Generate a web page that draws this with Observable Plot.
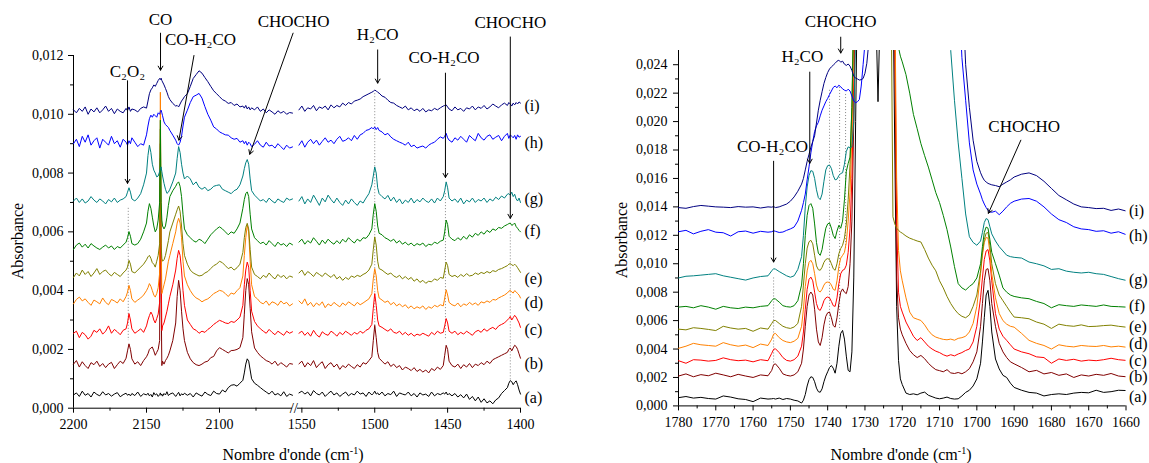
<!DOCTYPE html>
<html><head><meta charset="utf-8">
<script src="https://cdn.jsdelivr.net/npm/d3@7"></script>
<script src="https://cdn.jsdelivr.net/npm/@observablehq/plot@0.6"></script>
<style>
body{margin:0;background:#fff;}
#chart{position:relative;width:1149px;height:463px;font-family:"Liberation Serif",serif;overflow:hidden;background:#fff}
#chart svg{position:absolute;left:0;top:0;overflow:visible}
.ttl{position:absolute;font-size:16px;color:#000;white-space:nowrap;transform:translate(-50%,-50%)}
.rot{transform:translate(-50%,-50%) rotate(-90deg)}
.ttl sup{font-size:10px;vertical-align:6px;line-height:0}
</style></head><body><div id="chart"></div>
<script>
// Series keys and colours (a) ... (i)
const keys = ["a","b","c","d","e","f","g","h","i"];
const colors = ["#000000","#800000","#ff0000","#ff8000","#808000","#008000","#008080","#0000ff","#000080"];
const seriesLabels = ["(a)","(b)","(c)","(d)","(e)","(f)","(g)","(h)","(i)"];
// Absorbance values below are in units of 1e-5

// ---------- Left panel, segment 2200-2050 cm-1 ----------
const gridA = [2200,2198,2196,2194,2192,2190,2188,2186,2184,2182,2180,2178,2176,2174,2172,2170,2168,2166,2164,2163,2162,2161,2160,2158,2156,2154,2152,2150,2149,2148,2147,2146,2145,2144,2143,2142,2141,2140.5,2140,2139.5,2139,2138,2137,2136,2135,2134,2132,2130,2129,2128,2127,2126,2125,2124,2122,2120,2118,2116,2114,2112,2110,2108,2106,2104,2102,2100,2098,2096,2094,2092,2090,2088,2086,2084,2083,2082,2081,2080,2079,2078,2076,2074,2072,2070,2068,2066,2064,2062,2060,2058,2056,2054,2052,2050];
const aA = [45,52,40,58,44,50,38,55,47,42,56,45,50,41,48,53,39,46,51, 44,48,42,50, 43,55,40,49,45, 51,42,47,38,53,45,49,40,46, 52,44,48, 41,50,45,56,43,48, 52,40, 47,54,42,49,45,51, 44,50,38,52,46,41,55,47,43,58,50,48,62,55,70,78,80,75,85,95, 120,150,168,160,130,100, 85,78,70,62,55,48,58,45,50,42,56,40,48,44];
const bA = [150,162,140,158,145,135,155,148,160,142,152,138,150,156,135,148,160,152,170, 195,219,200,168, 150,158,145,162,175, 185,200,205,208,195,180,190,200,230, 850,400,145, 160,150,162,170,180,195, 230,290, 380,435,400,330,270,230, 190,168,155,148,145,150,157,160,172,176,195,206,200,194,188,196,197,200,206,240, 320,400,441,420,340,260, 205,190,178,170,162,158,150,160,145,155,148,140,152,150];
const cA = [255,262,240,258,250,235,245,265,258,270,252,262,280,255,268,260,250,265,270, 290,322,300,270, 255,262,270,258,280, 300,315,327,318,300,290,305,320,360, 900,500,264, 280,290,310,330,355,380, 420,470, 510,537,520,470,400,350, 300,285,270,265,255,262,258,268,275,285,292,299,295,290,288,295,292,300,310,350, 420,470,497,480,400,330, 295,280,270,262,255,268,258,250,262,255,248,262,255,260];
const dA = [355,370,378,365,372,360,350,368,362,355,375,360,352,370,365,358,372,362,380, 395,418,400,372, 360,368,375,385,400, 410,424,415,400,385,378,390,410,460, 1075,600,390, 400,420,440,470,500,520, 560,600, 630,646,630,580,500,450, 420,400,385,375,370,362,368,372,380,390,395,401,398,390,380,392,388,400,410,450, 520,580,622,600,500,420, 380,372,360,355,365,350,362,358,350,365,355,360,348,355];
const eA = [445,460,450,470,455,465,448,460,475,455,465,470,458,450,462,455,448,460,470, 480,503,490,465, 460,470,480,490,505, 515,520,510,495,490,480,500,520,560, 950,560,510, 500,505,520,545,570,600, 630,660, 675,688,670,620,560,520, 490,470,460,455,450,452,460,465,475,485,490,500,495,485,475,480,470,478,490,530, 580,615,629,610,540,480, 455,448,440,452,445,460,448,440,455,445,452,440,450,446];
const fA = [540,555,562,548,558,545,560,552,545,540,548,555,545,552,540,550,545,555,565, 580,601,585,560, 555,560,575,600,630, 670,696,680,650,620,600,610,640,700, 980,700,640, 620,610,620,650,690,720, 740,755, 765,770,755,720,660,610, 590,580,570,565,575,570,560,575,590,600,610,617,610,600,590,600,595,610,630,680, 710,730,736,720,660,610, 580,570,560,565,555,570,560,550,565,555,560,550,562,556];
const gA = [705,715,700,712,698,705,720,708,700,712,705,695,710,702,715,700,708,712,720, 735,750,735,712, 705,715,730,760,800, 860,895,870,830,810,800,787,790,805, 815,821,805, 790,765,745,731,735,745, 770,800, 850,890,870,830,800,780, 790,780,760,770,752,745,752,740,745,755,758,760,745,740,735,730,740,745,760,790, 815,835,846,830,780,740, 725,715,705,710,700,715,705,698,712,705,700,715,708,712];
const hA = [900,915,890,925,905,930,895,910,920,885,915,905,895,925,900,910,888,915,905, 895,910,900,920, 905,890,900,895,930, 960,985,997,990,1000,995,990,1005,1000, 1010,1014,1005, 995,974,965,960,955,945, 929,912, 900,895,905,925,960,990, 1014,1040,1060,1065,1071,1055,1026,1000,980,957,950,940,935,930,929,920,915,918,905,910, 900,908,895,905,900,890, 898,910,895,888,905,892,895,885,900,890,880,895,885,889];
const iA = [1015,1005,1020,1010,1025,1000,1018,1008,1022,1005,1015,1028,1010,1020,1002,1018,1010,1005,1020, 1012,1025,1010,1018, 1015,1008,1020,1025,1021, 1045,1070,1083,1090,1100,1095,1105,1115,1122, 1118,1123,1115, 1110,1100,1088,1075,1060,1050, 1037,1028, 1030,1025,1035,1045,1052,1060, 1070,1095,1122,1135,1148,1140,1125,1111,1095,1080,1070,1060,1050,1045,1037,1040,1030,1035,1025,1028, 1021,1030,1018,1025,1015,1022, 1015,1025,1010,1018,1005,1015,1008,1000,1012,1004,1010,1000,1006,1004];

// ---------- Left panel, segment 1553-1400 cm-1 ----------
const gridB = [1552,1550,1548,1546,1544,1542,1540,1538,1536,1534,1532,1530,1528,1526,1524,1522,1520,1518,1516,1514,1512,1510,1508,1506,1504,1502, 1501,1500,1499,1498,1497, 1495,1493,1491,1489,1487,1485,1483,1481,1479,1477,1475,1473,1471,1469,1467,1465,1463,1461,1459,1457,1455,1453, 1452,1451,1450,1449, 1447,1445,1443,1441,1439,1437,1435,1433,1431,1429,1427,1425,1423,1421,1419,1417,1415,1413,1411,1409, 1408,1407,1406,1405,1404,1403,1402,1401,1400];
const aB = [52,58,48,55,42,60,50,45,55,40,50,58,45,52,40,48,55,42,50,45,58,48,52,40,55,45, 50,58,48,52,45, 55,42,50,46,58,40,52,48,45,55,42,50,38,52,45,48,40,55,42,50,46,52, 48,55,45,50, 42,50,38,46,35,48,30,40,25,38,20,32,18,25,15,28,35,50,60,70, 85,94,90,80,88,93,80,62,48];
const bB = [151,160,140,155,145,162,138,150,158,135,148,155,140,150,132,145,138,150,142,135,148,140,155,150,162,175, 230,282,240,190,170, 160,150,158,142,150,138,145,130,140,135,128,138,125,132,123,130,120,135,128,140,132,145, 180,214,200,160, 145,140,150,135,148,140,152,138,150,145,155,148,160,152,165,170,175,180,185,190, 200,205,195,205,214,210,200,185,170];
const cB = [255,262,248,258,245,265,250,242,260,252,248,262,255,245,258,250,262,255,248,258,252,262,255,265,270,285, 340,390,350,300,280, 275,268,262,270,258,255,262,250,258,248,255,245,252,248,255,250,245,258,250,262,255,258, 280,305,290,262, 255,262,250,258,252,262,255,248,260,265,258,270,262,270,275,268,280,285,290,300, 305,312,300,308,316,310,300,290,275];
const dB = [365,355,372,350,360,345,358,350,362,342,355,348,360,352,345,358,350,362,355,348,360,352,358,365,372,390, 440,475,450,400,375, 368,360,365,352,360,348,355,345,352,340,348,338,345,340,348,336,345,340,350,345,352,348, 375,403,385,360, 352,348,358,345,355,350,360,352,358,350,362,358,365,360,370,368,375,380,385,392, 398,401,395,392,400,396,390,385,375];
const eB = [460,470,452,465,458,448,462,455,448,460,452,445,455,440,448,435,445,438,450,445,452,448,455,460,470,490, 540,583,555,500,475, 470,462,455,460,450,445,452,440,448,438,445,432,440,428,435,425,432,430,440,435,445,442, 470,497,485,455, 448,452,445,455,448,458,450,452,460,455,462,458,465,460,468,465,472,475,480,485, 490,492,488,485,490,485,478,470,462];
const fB = [565,575,558,570,562,580,568,555,572,560,575,565,558,570,560,575,565,580,570,562,575,568,580,578,590,610, 660,696,670,620,595, 590,580,575,568,575,562,570,558,565,555,562,552,560,555,562,550,558,555,565,560,568,572, 600,640,625,585, 575,570,580,572,585,575,590,582,595,588,600,592,605,598,610,605,615,612,620,625, 628,630,622,625,630,618,612,605,600];
const gB = [705,720,695,712,700,725,708,690,715,702,725,710,698,715,700,690,708,695,712,700,690,705,698,715,730,760, 790,821,800,750,730, 720,712,724,705,718,700,712,695,708,700,715,698,710,702,715,705,700,712,698,715,705,720, 740,770,750,715, 705,712,700,715,695,708,702,715,700,710,705,715,700,712,705,718,710,722,715,728, 730,725,735,720,728,712,705,715,700];
const hB = [895,910,888,905,915,900,912,895,908,920,905,912,900,915,925,908,912,920,910,928,915,930,935,945,948,955, 950,957,948,955,945, 940,930,935,923,915,910,905,901,895,905,890,895,885,889,892,885,895,901,905,915,923,918, 925,935,920,912, 905,920,912,925,915,905,928,918,910,935,920,912,925,930,915,922,928,910,925,935, 918,930,925,920,928,915,930,922,925];
const iB = [1015,1028,1010,1022,1018,1030,1012,1025,1020,1028,1015,1032,1022,1030,1025,1038,1030,1040,1035,1045,1048,1052,1060,1065,1070,1075, 1078,1082,1080,1075,1072, 1062,1058,1048,1040,1038,1030,1025,1020,1028,1015,1022,1012,1018,1010,1020,1008,1015,1012,1020,1015,1022,1028, 1030,1032,1025,1018, 1012,1025,1015,1020,1010,1022,1018,1028,1015,1025,1020,1030,1018,1025,1035,1028,1022,1032,1038,1030, 1040,1035,1028,1038,1032,1040,1035,1042,1038];

// ---------- Right panel, 1780-1660 cm-1 ----------
const gridR = [1780,1778,1776,1774,1772,1770,1768,1766,1764,1762,1760,1758,1756, 1755,1754.5,1754,1753,1752,1751,1750,1749,1748,1747, 1746.5,1746,1745.5,1745,1744.5,1744,1743.5,1743,1742.5,1742,1741.5,1741,1740.5,1740,1739.5,1739,1738.5,1738,1737.5,1737,1736.5,1736,1735.5,1735,1734.5,1734,1733.5,1733,1732.5,1732,1731.5,1731,1730.5,1730,1729.5,1729, 1728,1727,1726.5,1726,1725,1724,1723.5,1723,1722.5,1722,1721.5,1721,1720.5,1720,1719,1718,1717,1716,1715,1714,1713,1712,1711,1710,1709,1708,1707,1706,1705,1704,1703,1702,1701,1700,1699,1698.5,1698,1697.5,1697,1696.5,1696,1695,1694,1693,1692,1691,1690, 1688,1686,1684,1682,1680,1678,1676,1674,1672,1670,1668,1666,1664,1662,1660];
const aR = [58,66,55,60,52,48,70,62,50,45,30,55,48, 50,52,48,55,45,52,48,40,35,20, 40,80,140,185,205,200,170,125,100,96,120,170,210,240,270,284,265,230,300,420,510,531,470,350,250,240,380,900,2000,3000,3000,3000,3000,3000,3000,3000, 3000,2700,2140,2700,3000,3000,3000,3000,3000,1800,700,320,190,150,90,80,85,78,90,97,75,65,55,50,55,62,52,48,50,70,95,110,140,190,300,450,620,780,813,700,520,330,260,215,200,160,130, 110,95,90,70,80,85,80,90,95,92,110,95,100,110,108];
const bR = [210,225,205,220,212,230,218,205,222,210,200,218,212, 250,290,296,265,225,215,210,218,240,300, 400,560,700,780,801,780,680,540,450,425,480,570,630,655,660,620,565,554,620,720,800,823,800,790,840,1000,1300,2000,3000,3000,3000,3000,3000,3000,3000,3000, 3000,3000,3000,3000,3000,3000,3000,3000,3000,2500,900,620,540,500,440,390,360,340,355,332,300,275,255,248,240,255,232,228,235,226,240,262,310,380,560,720,880,960,965,880,720,560,440,380,340,310,296, 270,240,250,225,235,215,225,200,218,210,222,215,228,210,205];
const cR = [318,300,325,322,315,320,338,325,318,322,310,325,318, 370,398,402,375,340,320,315,325,350,420, 520,680,820,890,906,880,800,720,680,672,700,740,760,766,760,735,705,700,760,860,930,954,960,990,1080,1250,1600,2300,3000,3000,3000,3000,3000,3000,3000,3000, 3000,3000,3000,3000,3000,3000,3000,3000,3000,2700,1300,800,700,660,590,540,490,460,480,450,420,400,385,375,360,350,360,352,365,375,390,400,450,560,760,900,1030,1090,1100,1020,880,649,540,490,461,430,400, 380,367,345,340,300,330,320,328,315,322,318,325,335,325,320];
const dR = [405,420,440,430,425,420,445,430,420,428,410,435,425, 470,505,510,480,460,450,445,455,475,560, 680,840,950,1010,1024,1000,930,850,810,801,820,850,868,871,868,850,820,813,880,980,1040,1059,1080,1150,1300,1500,1900,2600,3000,3000,3000,3000,3000,3000,3000,3000, 3000,3000,3000,3000,3000,3000,3000,3000,3000,2900,1600,1094,950,880,760,660,620,610,601,570,530,500,484,475,468,465,470,462,475,480,490,520,580,700,930,1060,1150,1185,1180,1080,930,760,650,600,575,560,554, 510,461,440,425,400,430,420,415,425,420,418,425,415,420,413];
const eR = [540,535,550,545,538,530,560,548,540,545,525,548,540, 580,600,601,580,560,550,545,555,580,700, 850,1000,1110,1155,1165,1140,1060,985,958,954,975,1010,1030,1036,1030,1000,965,954,1000,1070,1107,1130,1180,1280,1450,1700,2100,2800,3000,3000,3000,3000,3000,3000,3000,3000, 3000,3000,3000,3000,3000,3000,3000,3000,1330,1280,1250,1235,1223,1215,1195,1180,1170,1160,1153,1100,1040,990,950,880,830,770,720,680,649,630,620,640,700,780,950,1080,1170,1215,1220,1130,1000,860,780,740,700,660,625, 620,613,590,575,545,575,565,560,570,558,560,565,568,560,554];
const fR = [695,700,690,705,695,680,700,690,685,695,690,700,705, 740,754,752,730,705,698,695,705,740,850, 1000,1200,1340,1410,1423,1390,1280,1150,1075,1059,1100,1180,1250,1280,1287,1250,1200,1177,1230,1270,1250,1300,1450,1650,1706,1750,2100,2800,3000,3000,3000,3000,3000,3000,3000,3000, 3000,3000,3000,3000,3000,3000,3000,3000,3000,3000,3000,2520,2460,2420,2330,2200,2050,1950,1845,1760,1680,1590,1500,1430,1340,1240,1118,980,860,830,815,840,860,900,1000,1120,1220,1258,1250,1170,1080,1000,920,830,800,780,770, 760,754,735,720,690,712,705,700,710,705,700,710,700,698,695];
const gR = [900,912,915,920,925,930,915,905,895,885,900,910,915, 950,965,962,945,930,915,905,915,960,1050, 1200,1400,1540,1620,1655,1650,1600,1520,1465,1451,1490,1580,1660,1690,1694,1670,1620,1590,1595,1620,1635,1640,1700,1790,1822,1815,1822,2000,2600,3000,3000,3000,3000,3000,3000,3000, 3000,3000,3000,3000,3000,3000,3000,3000,3000,3000,3000,3000,3000,3000,3000,3000,3000,3000,3000,3000,3000,3000,3000,3000,3000,2900,2500,2150,1850,1600,1350,1190,1150,1130,1160,1220,1290,1318,1310,1260,1210,1160,1120,1090,1060,1050,1045, 1040,1012,1000,985,960,965,948,940,935,940,930,925,910,895,883];
const hR = [1225,1235,1210,1228,1240,1222,1218,1195,1225,1230,1215,1228,1222, 1225,1232,1228,1220,1223,1235,1245,1258,1300,1376, 1430,1490,1590,1681,1780,1860,1930,1970,1995,2040,2080,2110,2140,2163,2190,2215,2240,2250,2238,2256,2245,2230,2221,2215,2228,2215,2180,2145,2132,2140,2155,2250,2400,2550,3000,3000, 3000,3000,3000,3000,3000,3000,3000,3000,3000,3000,3000,3000,3000,3000,3000,3000,3000,3000,3000,3000,3000,3000,3000,3000,3000,3000,3000,3000,3000,2450,2150,1850,1660,1560,1490,1450,1420,1395,1375,1365,1362,1370,1345,1370,1400,1425,1440, 1455,1459,1440,1400,1350,1310,1290,1260,1245,1240,1228,1232,1215,1225,1205];
const iR = [1395,1390,1402,1410,1405,1400,1398,1395,1402,1398,1400,1392,1400, 1398,1402,1395,1400,1410,1420,1440,1470,1510,1560, 1600,1660,1720,1770,1820,1860,1900,1990,2080,2150,2210,2268,2310,2345,2370,2385,2397,2410,2425,2432,2418,2425,2404,2395,2405,2390,2360,2320,2305,2300,2292,2295,2303,2340,2410,2550, 3000,3000,3000,3000,3000,3000,3000,3000,3000,3000,3000,3000,3000,3000,3000,3000,3000,3000,3000,3000,3000,3000,3000,3000,3000,3000,3000,3000,3000,3000,2400,2100,1869,1720,1640,1610,1587,1575,1565,1560,1555,1550,1542,1560,1575,1590,1610, 1630,1639,1620,1580,1530,1480,1450,1420,1400,1395,1388,1390,1375,1385,1371];

// Tick values
const yTicksLeft = [0,0.002,0.004,0.006,0.008,0.010,0.012];
const yMinorLeft = [0.001,0.003,0.005,0.007,0.009,0.011];
const xTicksA = [2200,2150,2100];
const xMinorA = [2175,2125,2075];
const xTicksB = [1550,1500,1450,1400];
const xMinorB = [1525,1475,1425];
const yTicksRight = [0,0.002,0.004,0.006,0.008,0.010,0.012,0.014,0.016,0.018,0.020,0.022,0.024];
const yMinorRight = [0.001,0.003,0.005,0.007,0.009,0.011,0.013,0.015,0.017,0.019,0.021,0.023];
const xTicksR = [1780,1770,1760,1750,1740,1730,1720,1710,1700,1690,1680,1670,1660];
const xMinorR = [1775,1765,1755,1745,1735,1725,1715,1705,1695,1685,1675,1665];

// Label positions (absorbance at the line ends)
const labelYLeft = [0.000365,0.00152,0.00265,0.00357,0.00439,0.00605,0.00711,0.00902,0.01028];
const labelYRight = [0.00066,0.00202,0.00320,0.00437,0.00554,0.00707,0.00883,0.01193,0.01371];

// Annotations
const annotA = [{text:"C₂O₂",x:2163,y:0.01144},{text:"CO",x:2140.4,y:0.01321},{text:"CO-H₂CO",x:2113,y:0.01253},{text:"CHOCHO",x:2049.3,y:0.01314}];
const arrowsA = [{x1:2163,y1:0.01114,x2:2163,y2:0.00765},{x1:2140.4,y1:0.01276,x2:2140.4,y2:0.0115},{x1:2117.5,y1:0.0120,x2:2127.8,y2:0.00912},{x1:2049.6,y1:0.01276,x2:2079.3,y2:0.00864}];
const dotsA = [{x:2162.5,y1:0.0068,y2:0.0023}];
const annotB = [{text:"H₂CO",x:1498,y:0.0127},{text:"CO-H₂CO",x:1452.5,y:0.01193},{text:"CHOCHO",x:1407,y:0.01312}];
const arrowsB = [{x1:1498,y1:0.01219,x2:1498,y2:0.01106},{x1:1451.5,y1:0.0114,x2:1451.5,y2:0.00785},{x1:1407,y1:0.01263,x2:1407,y2:0.00646}];
const dotsB = [{x:1500,y1:0.0107,y2:0.0026},{x:1451.5,y1:0.0073,y2:0.0023},{x:1407,y1:0.0060,y2:0.0009}];
const annotR = [{text:"CHOCHO",x:1736.5,y:0.02707},{text:"H₂CO",x:1746.8,y:0.02456},{text:"CO-H₂CO",x:1754.8,y:0.01822},{text:"CHOCHO",x:1687.3,y:0.01968}];
const arrowsR = [{x1:1736.5,y1:0.02594,x2:1736.5,y2:0.02482},{x1:1744.8,y1:0.02348,x2:1744.8,y2:0.01707},{x1:1754.5,y1:0.01721,x2:1754.5,y2:0.01012},{x1:1688.2,y1:0.01869,x2:1696.9,y2:0.01355}];
const dotsR = [{x:1754.5,y1:0.0090,y2:0.0030},{x:1739.5,y1:0.0222,y2:0.0028},{x:1736.8,y1:0.0224,y2:0.0054},{x:1735.2,y1:0.0219,y2:0.0110}];

// ---------- build tables ----------
const segA = {a:aA,b:bA,c:cA,d:dA,e:eA,f:fA,g:gA,h:hA,i:iA};
const segB = {a:aB,b:bB,c:cB,d:dB,e:eB,f:fB,g:gB,h:hB,i:iB};
const segR = {a:aR,b:bR,c:cR,d:dR,e:eR,f:fR,g:gR,h:hR,i:iR};
function table(name, grid, seg){
  const out = [];
  for (const k of keys){
    if (seg[k].length !== grid.length) throw new Error(name+"."+k+" has "+seg[k].length+" values, grid "+grid.length);
    seg[k].forEach((v,j)=>out.push({s:k, x:grid[j], y:v/1e5}));
  }
  return out;
}
const dataA = table("A", gridA, segA);
const dataB = table("B", gridB, segB);
const dataR = table("R", gridR, segR);
const labelsLeft = keys.map((k,j)=>({s:k, text:seriesLabels[j], y:labelYLeft[j]}));
const labelsRight = keys.map((k,j)=>({s:k, text:seriesLabels[j], y:labelYRight[j]}));

const fmt = d => d.toFixed(3).replace(".", ",");
const blank = () => "";
const style = {fontFamily:"'Liberation Serif', serif", fontSize:"14px", background:"transparent", overflow:"visible", color:"#000"};
const color = {domain: keys, range: colors};
const W = 1149, H = 463;

const arrowOpts = {x1:"x1",y1:"y1",x2:"x2",y2:"y2",stroke:"#000",strokeWidth:1,headLength:7};
const dotOpts = {x:"x",y1:"y1",y2:"y2",stroke:"#888",strokeWidth:1,strokeDasharray:"1,2"};
const textOpts = {x:"x",y:"y",text:"text",fontSize:17};

const p1 = Plot.plot({
  width: W, height: H, marginLeft: 73, marginRight: W-292, marginTop: 55, marginBottom: H-407.7,
  x: {domain:[2200,2050], axis:null}, y: {domain:[0,0.012], axis:null}, color, style,
  marks: [
    Plot.ruleX([2200]), Plot.ruleY([0]),
    Plot.axisY(yTicksLeft, {tickSize:5, tickPadding:5, tickFormat:fmt, label:null}),
    Plot.axisY(yMinorLeft, {tickSize:3, tickFormat:blank, label:null}),
    Plot.axisX(xTicksA, {tickSize:5, tickPadding:6, tickFormat:d=>String(d), label:null}),
    Plot.axisX(xMinorA, {tickSize:3, tickFormat:blank, label:null}),
    Plot.ruleX(dotsA, dotOpts),
    Plot.line(dataA, {x:"x", y:"y", z:"s", stroke:"s", strokeWidth:1}),
    Plot.arrow(arrowsA, arrowOpts),
    Plot.text(annotA, textOpts)
  ]
});
const p2 = Plot.plot({
  width: W, height: H, marginLeft: 297, marginRight: W-520, marginTop: 55, marginBottom: H-407.7,
  x: {domain:[1553,1400], axis:null}, y: {domain:[0,0.012], axis:null}, color, style,
  marks: [
    Plot.ruleY([0]),
    Plot.text(["//"], {x:1555.5, y:0, fontSize:15}),
    Plot.axisX(xTicksB, {tickSize:5, tickPadding:6, tickFormat:d=>String(d), label:null}),
    Plot.axisX(xMinorB, {tickSize:3, tickFormat:blank, label:null}),
    Plot.ruleX(dotsB, dotOpts),
    Plot.line(dataB, {x:"x", y:"y", z:"s", stroke:"s", strokeWidth:1}),
    Plot.arrow(arrowsB, arrowOpts),
    Plot.text(annotB, textOpts),
    Plot.text(labelsLeft, {x:1400, y:"y", text:"text", dx:4, textAnchor:"start", fontSize:16})
  ]
});
const p3 = Plot.plot({
  width: W, height: H, marginLeft: 678, marginRight: W-1125.5, marginTop: 50, marginBottom: H-405.4,
  x: {domain:[1780,1660], axis:null}, y: {domain:[0,0.025], axis:null}, color, style,
  marks: [
    Plot.ruleX([1780]), Plot.ruleY([0]),
    Plot.axisY(yTicksRight, {tickSize:5, tickPadding:6, tickFormat:fmt, label:null}),
    Plot.axisY(yMinorRight, {tickSize:3, tickFormat:blank, label:null}),
    Plot.axisX(xTicksR, {tickSize:5, tickPadding:6, tickFormat:d=>String(d), label:null}),
    Plot.axisX(xMinorR, {tickSize:3, tickFormat:blank, label:null}),
    Plot.ruleX(dotsR, dotOpts),
    Plot.line(dataR, {x:"x", y:"y", z:"s", stroke:"s", strokeWidth:1, clip:true}),
    Plot.arrow(arrowsR, arrowOpts),
    Plot.text(annotR, textOpts),
    Plot.text(labelsRight, {x:1660, y:"y", text:"text", dx:3, textAnchor:"start", fontSize:16})
  ]
});
const chart = document.getElementById("chart");
chart.append(p1, p2, p3);
function title(html, x, y, rot){
  const d = document.createElement("div");
  d.className = "ttl" + (rot ? " rot" : "");
  d.style.left = x + "px"; d.style.top = y + "px";
  d.innerHTML = html;
  chart.append(d);
}
title("Absorbance", 18, 241, true);
title("Absorbance", 622, 240, true);
title("Nombre d'onde (cm<sup>-1</sup>)", 293, 455, false);
title("Nombre d'onde (cm<sup>-1</sup>)", 901, 455, false);
</script></body></html>
